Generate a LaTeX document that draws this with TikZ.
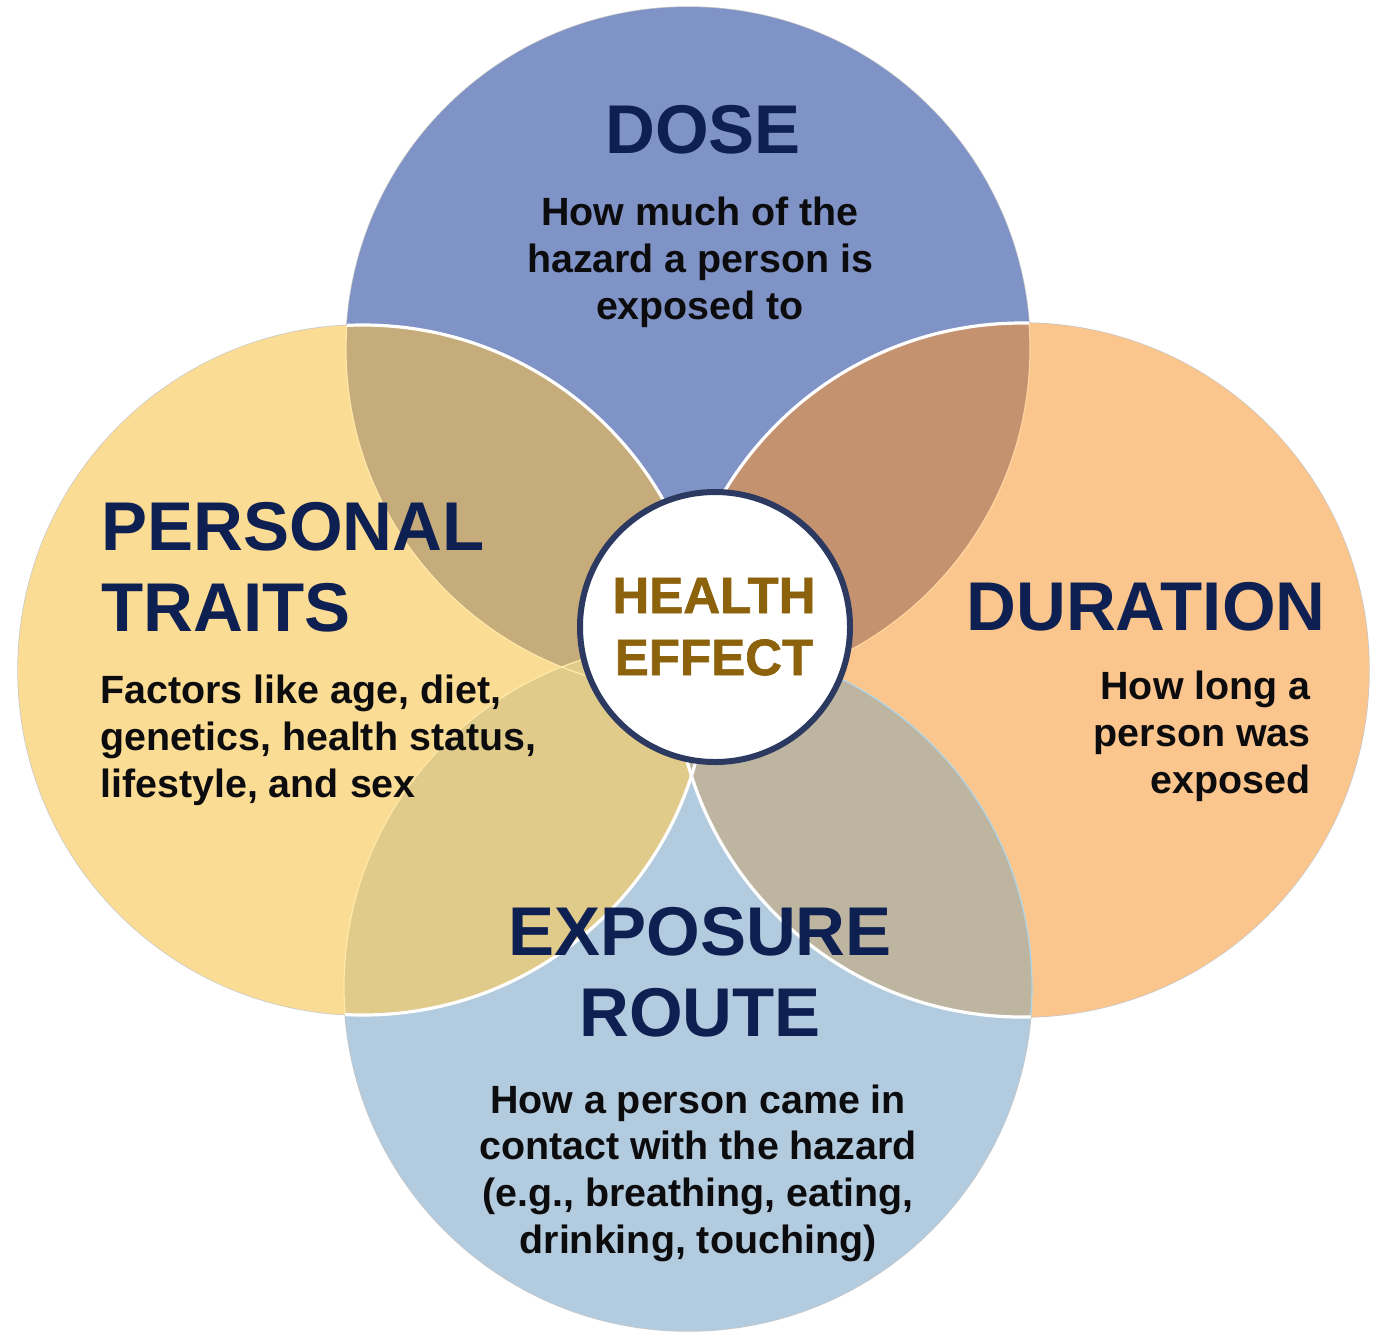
\documentclass[tikz,border=0pt]{standalone}
\usepackage{fontspec}
\setmainfont{Liberation Sans}
\newfontfamily\hubfont[FakeBold=1.3]{Liberation Sans Bold}

% circle fills
\definecolor{doseblue}{RGB}{128,147,199}
\definecolor{traityellow}{RGB}{251,220,148}
\definecolor{durorange}{RGB}{251,198,141}
\definecolor{routeblue}{RGB}{179,203,222}
% overlap fills
\definecolor{lensDP}{RGB}{198,172,122}
\definecolor{lensDD}{RGB}{197,146,112}
\definecolor{lensPE}{RGB}{225,203,139}
\definecolor{lensDE}{RGB}{189,181,160}
% faint edges seen through the overlaps
\definecolor{edgeyellow}{RGB}{255,232,168}
\definecolor{edgeorange}{RGB}{255,214,160}
\definecolor{edgeblue}{RGB}{172,214,236}
% text and hub
\definecolor{navytext}{RGB}{14,32,82}
\definecolor{bodytext}{RGB}{12,12,14}
\definecolor{goldtext}{RGB}{140,98,12}
\definecolor{hubnavy}{RGB}{44,58,98}

\newcommand\rDose{171pt}
\newcommand\rTrait{172.5pt}
\newcommand\rDur{173.5pt}
\newcommand\rRoute{172pt}

\begin{document}
\begin{tikzpicture}[x=0.5pt,y=-0.5pt,
  title/.style={inner sep=0pt, text=navytext,
    font=\fontsize{34.5}{40.5}\selectfont\bfseries},
  body/.style={inner sep=0pt, text=bodytext,
    font=\fontsize{19.7}{23.3}\selectfont\bfseries},
  hubtext/.style={inner sep=0pt, text=goldtext,
    font=\fontsize{25.5}{31}\selectfont\hubfont},
  rim/.style={draw=black!22, line width=0.7pt},
  whiteedge/.style={draw=white, line width=1.6pt},
  faintedge/.style={line width=0.6pt}]

\useasboundingbox (0,0) rectangle (1384,1334);
\fill[white] (0,0) rectangle (1384,1334);

\coordinate (cD) at (688,349);
\coordinate (cP) at (363,670);
\coordinate (cU) at (1022,670);
\coordinate (cE) at (688,987);

% thin grey rims around the outside
\draw[rim] (cD) circle[radius=\rDose];
\draw[rim] (cP) circle[radius=\rTrait];
\draw[rim] (cU) circle[radius=\rDur];
\draw[rim] (cE) circle[radius=\rRoute];

% base fills
\fill[doseblue] (cD) circle[radius=\rDose];
\fill[routeblue] (cE) circle[radius=\rRoute];
\fill[traityellow] (cP) circle[radius=\rTrait];
\fill[durorange] (cU) circle[radius=\rDur];

% overlaps
\begin{scope}
  \clip (cD) circle[radius=\rDose];
  \fill[lensDP] (cP) circle[radius=\rTrait];
  \fill[lensDD] (cU) circle[radius=\rDur];
\end{scope}
\begin{scope}
  \clip (cE) circle[radius=\rRoute];
  \fill[lensPE] (cP) circle[radius=\rTrait];
  \fill[lensDE] (cU) circle[radius=\rDur];
\end{scope}

% faint edges inside the side circles
\begin{scope}
  \clip (cP) circle[radius=\rTrait];
  \draw[faintedge, edgeyellow] (cD) circle[radius=\rDose];
  \draw[faintedge, edgeyellow] (cE) circle[radius=\rRoute];
\end{scope}
\begin{scope}
  \clip (cU) circle[radius=\rDur];
  \draw[faintedge, edgeorange] (cD) circle[radius=\rDose];
  \draw[faintedge, edgeblue] (cE) circle[radius=\rRoute];
\end{scope}

% white edges of the side circles
\begin{scope}
  \clip (cD) circle[radius=\rDose];
  \draw[whiteedge] (cP) circle[radius=\rTrait];
  \draw[whiteedge] (cU) circle[radius=\rDur];
\end{scope}
\begin{scope}
  \clip (cE) circle[radius=\rRoute];
  \draw[whiteedge] (cP) circle[radius=\rTrait];
  \draw[whiteedge] (cU) circle[radius=\rDur];
\end{scope}

% central hub (text anchors sit on the last line's baseline)
\node[circle, draw=hubnavy, line width=3pt, fill=white,
      minimum size=135pt, inner sep=0pt] (hub) at (715,627) {};
\node[hubtext, anchor=base, align=center] (health) at (714,675) {HEALTH\\EFFECT};

% DOSE
\node[title, anchor=base] (dosetitle) at (703,153) {DOSE};
\node[body, anchor=base, align=center] (dosebody) at (700,319)
  {How much of the\\hazard a person is\\exposed to};

% PERSONAL TRAITS
\node[title, anchor=base west, align=left] (traittitle) at (101,631)
  {PERSONAL\\TRAITS};
\node[body, anchor=base west, align=left] (traitbody) at (100,797)
  {Factors like age, diet,\\genetics, health status,\\lifestyle, and sex};

% DURATION
\node[title, anchor=base] (durtitle) at (1146,630) {DURATION};
\node[body, anchor=base east, align=right] (durbody) at (1311,793)
  {How long a\\person was\\exposed};

% EXPOSURE ROUTE
\node[title, anchor=base, align=center] (routetitle) at (700,1036)
  {EXPOSURE\\ROUTE};
\node[body, anchor=base, align=center] (routebody) at (698,1253)
  {How a person came in\\contact with the hazard\\(e.g., breathing, eating,\\drinking, touching)};

\end{tikzpicture}
\end{document}
